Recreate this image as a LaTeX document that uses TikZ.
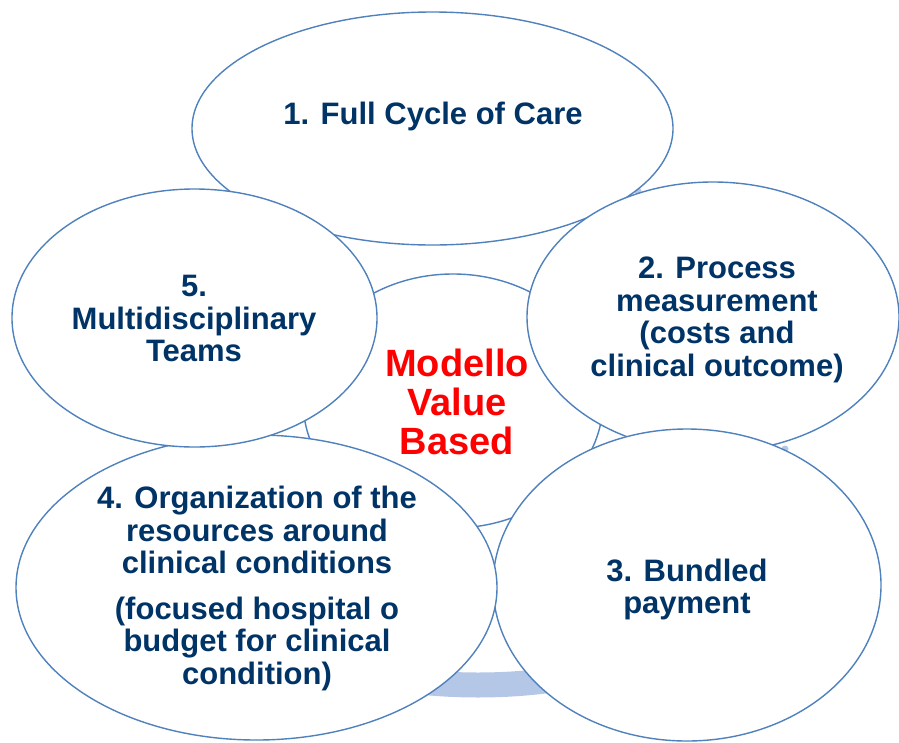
\documentclass[tikz,border=0pt]{standalone}
\usepackage{fontspec}
\setmainfont{Liberation Sans}
\usetikzlibrary{calc}
\definecolor{rim}{RGB}{79,129,189}
\definecolor{ink}{RGB}{0,51,102}
\definecolor{band}{RGB}{180,199,231}
\begin{document}
\begin{tikzpicture}[x=1pt,y=-1pt,
  bubble/.style={draw=rim, fill=white, line width=1.4pt},
  label/.style={text=ink, font=\bfseries\fontsize{31}{32.5}\selectfont, align=center, inner sep=0pt},
  core/.style={text=red, font=\bfseries\fontsize{38}{39}\selectfont, align=center, inner sep=0pt},
  ring/.style={draw=band, line width=25pt}]
\useasboundingbox (0,0) rectangle (899,742);

% cycle ring behind the bubbles
\coordinate (ringc) at (478,430);
\draw[ring] ($(ringc)+(66:380 and 255)$) arc[start angle=66, end angle=114, x radius=380, y radius=255];
\fill[band] (638,191) circle[radius=3.5];
\fill[band] (785,449) circle[radius=3.5];

% central hub
\draw[bubble] (453,401) ellipse[x radius=150, y radius=127];

% the five stages
\draw[bubble] (432.5,128.5) ellipse[x radius=240.5, y radius=116.5];
\draw[bubble] (713,317) ellipse[x radius=186, y radius=135];
\draw[bubble] (687,585) ellipse[x radius=194, y radius=156];
\draw[bubble] (256.5,587.5) ellipse[x radius=240.5, y radius=152.5];
\draw[bubble] (194.5,318) ellipse[x radius=182.5, y radius=129];

% texts
\node[core]  (hub) at (457,402) {Modello\\Value\\Based};
\node[label] (s1) at (433,116) {1. Full Cycle of Care};
\node[label] (s2) at (717,320) {2. Process\\measurement\\(costs and\\clinical outcome)};
\node[label] (s3) at (687,589.5) {3. Bundled\\payment};
\node[label] (s4) at (257,588.5) {4. Organization of the\\resources around\\clinical conditions\\[13pt](focused hospital o\\budget for clinical\\condition)};
\node[label] (s5) at (194,318.5) {5.\\Multidisciplinary\\Teams};
\end{tikzpicture}
\end{document}
